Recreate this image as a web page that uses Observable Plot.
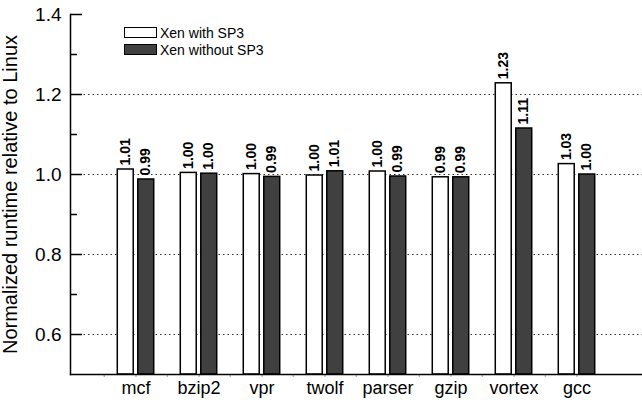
<!DOCTYPE html>
<html>
<head>
<meta charset="utf-8">
<script src="https://cdn.jsdelivr.net/npm/d3@7"></script>
<script src="https://cdn.jsdelivr.net/npm/@observablehq/plot@0.6"></script>
<style>
  html, body { margin: 0; padding: 0; background: #fff; }
  #wrap { position: relative; width: 642px; height: 407px; font-family: "Liberation Sans", Arial, sans-serif; }
  #legend { position: absolute; left: 124px; top: 24px; font-size: 14px; color: #000; }
  .row { display: flex; align-items: center; height: 17px; }
  .sw { width: 31px; height: 9px; border: 1.5px solid #000; margin-right: 3px; }
</style>
</head>
<body>
<div id="wrap"><div id="legend"></div></div>
<script>
const categories = ["mcf", "bzip2", "vpr", "twolf", "parser", "gzip", "vortex", "gcc"];
const seriesNames = ["Xen with SP3", "Xen without SP3"];
const withSP3 = [1.0125, 1.004, 1.001, 0.9975, 1.0075, 0.993, 1.228, 1.026];
const withoutSP3 = [0.9875, 1.002, 0.994, 1.008, 0.995, 0.993, 1.115, 1.0];
const withLabels = ["1.01", "1.00", "1.00", "1.00", "1.00", "0.99", "1.23", "1.03"];
const withoutLabels = ["0.99", "1.00", "0.99", "1.01", "0.99", "0.99", "1.11", "1.00"];
const yMajor = [0.6, 0.8, 1.0, 1.2, 1.4];
const yMinor = [0.7, 0.9, 1.1, 1.3];
const yGrid = [0.6, 0.8, 1.0, 1.2];
const yBase = 0.5;
const yTop = 1.4;
const yTitle = "Normalized runtime relative to Linux";
const seriesFills = ["#ffffff", "#404040"];

const W = 642, H = 407, ML = 70, MR = 0, MT = 14, MB = 33;
const plotW = W - ML - MR;
const step = plotW / (categories.length + 1);
const half = step / 2;

const data = categories.map((c, i) => ({
  cat: c, w: withSP3[i], wo: withoutSP3[i], wl: withLabels[i], wol: withoutLabels[i]
}));

const font = "Liberation Sans, Arial, sans-serif";

const chart = Plot.plot({
  width: W, height: H,
  marginLeft: ML, marginRight: MR, marginTop: MT, marginBottom: MB,
  style: { fontFamily: font, background: "white", color: "#000" },
  x: { type: "band", domain: categories, paddingInner: 0, paddingOuter: 0.5 },
  y: { domain: [yBase, yTop] },
  marks: [
    Plot.ruleY(yGrid, { stroke: "#333", strokeWidth: 1, strokeDasharray: "1.5,3" }),
    Plot.barY(data, { x: "cat", y1: yBase, y2: "w", fill: seriesFills[0], stroke: "#000", strokeWidth: 1.5,
      insetLeft: half - 18.5, insetRight: half + 2 }),
    Plot.barY(data, { x: "cat", y1: yBase, y2: "wo", fill: seriesFills[1], stroke: "#000", strokeWidth: 1.5,
      insetLeft: half + 2, insetRight: half - 18.5 }),
    Plot.text(data, { x: "cat", y: "w", text: "wl", rotate: -90, textAnchor: "start", dx: -10, dy: -4,
      fontWeight: "bold", fontSize: 14, fill: "#000" }),
    Plot.text(data, { x: "cat", y: "wo", text: "wol", rotate: -90, textAnchor: "start", dx: 10, dy: -4,
      fontWeight: "bold", fontSize: 14, fill: "#000" }),
    Plot.ruleY(yMajor, { stroke: "#000", strokeWidth: 1.5, insetRight: plotW - 12 }),
    Plot.ruleY(yMinor, { stroke: "#000", strokeWidth: 1.5, insetRight: plotW - 7 }),
    Plot.ruleX(categories, { x: d => d, dx: -half, stroke: "#999", strokeWidth: 1, insetTop: H - MT - MB, insetBottom: -3 }),
    Plot.axisX({ tickSize: 3, stroke: "#999", tickPadding: 4, fontSize: 18, label: null }),
    Plot.axisY(yMajor, { tickSize: 0, tickPadding: 9, fontSize: 19, tickFormat: d3.format(".1f"),
      label: yTitle, labelAnchor: "center", labelArrow: "none", labelOffset: 68 }),
    Plot.frame({ anchor: "left", stroke: "#000", strokeWidth: 1.5 }),
    Plot.frame({ anchor: "bottom", stroke: "#000", strokeWidth: 1.5 })
  ]
});
chart.querySelectorAll("[aria-label='y-axis label'] text, [aria-label='y-axis label']").forEach(el => el.setAttribute("font-size", "20"));
document.getElementById("wrap").prepend(chart);

const legend = document.getElementById("legend");
seriesNames.forEach((name, i) => {
  const row = document.createElement("div");
  row.className = "row";
  const sw = document.createElement("div");
  sw.className = "sw";
  sw.style.background = seriesFills[i];
  const t = document.createElement("span");
  t.textContent = name;
  row.append(sw, t);
  legend.append(row);
});
</script>
</body>
</html>
